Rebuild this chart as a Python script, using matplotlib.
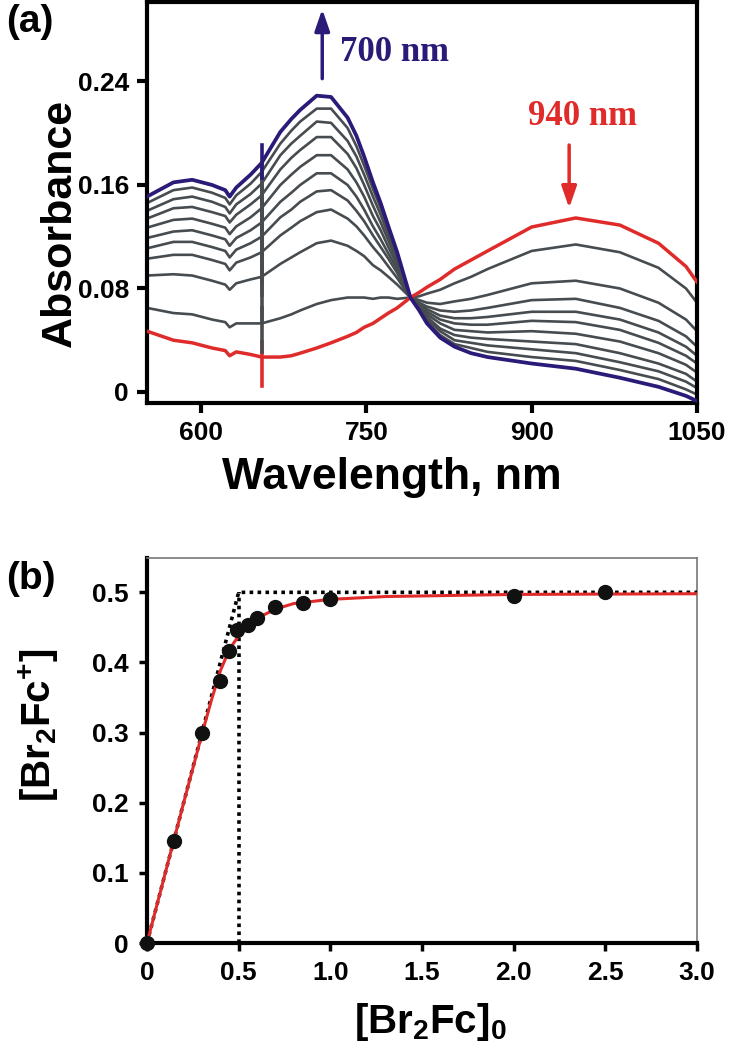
import numpy as np
import matplotlib
matplotlib.use("Agg")
import matplotlib.pyplot as plt

plt.rcParams['font.family'] = ['Liberation Sans', 'DejaVu Sans']
plt.rcParams['mathtext.fontset'] = 'custom'
plt.rcParams['mathtext.rm'] = 'Liberation Sans:bold'
plt.rcParams['mathtext.bf'] = 'Liberation Sans:bold'

# ---- panel (a) data: absorbance spectra during titration ----
wl = [551, 575, 592, 610, 622, 626, 632, 645, 655, 672, 682, 690, 705, 718, 733, 741, 748,
      756, 763, 770, 778, 790, 798, 805, 817, 830, 845, 860, 900, 940, 980, 1015, 1040, 1050]

abs_red = [.047, .040, .038, .034, .032, .028, .031, .029, .027, .027, .028, .030, .034, .038,
           .043, .046, .050, .053, .057, .061, .065, .073, .077, .081, .087, .095, .102, .109,
           .1275, .1345, .129, .115, .097, .085]
abs_blue = [.151, .162, .164, .160, .156, .151, .158, .168, .177, .201, .211, .218, .229, .228,
            .212, .198, .182, .162, .146, .128, .108, .073, .063, .053, .042, .035, .030, .027,
            .022, .018, .011, .004, -.003, -.007]

abs_g1 = [.065, .061, .060, .056, .054, .050, .053, .053, .053, .057, .060, .063, .068, .071,
          .073, .073, .073, .072, .073, .073, .072, .073, .074, .076, .079, .084, .089, .095,
          .109, .114, .108, .096, .080, .069]
abs_g2 = [.090, .091, .090, .086, .083, .079, .084, .087, .089, .099, .104, .108, .115, .117,
          .113, .109, .105, .098, .094, .089, .083, .073, .071, .069, .068, .070, .072, .075,
          .084, .086, .080, .069, .056, .047]
abs_g3 = [.103, .106, .106, .102, .099, .094, .100, .104, .108, .121, .127, .132, .139, .141,
          .134, .128, .121, .112, .105, .097, .088, .073, .069, .066, .063, .062, .063, .065,
          .071, .072, .065, .055, .043, .035]
abs_g4 = [.111, .116, .116, .112, .109, .104, .110, .115, .120, .135, .141, .147, .155, .156,
          .148, .140, .132, .121, .112, .103, .092, .073, .068, .064, .059, .057, .057, .058,
          .062, .062, .056, .046, .035, .028]
abs_g5 = [.119, .124, .125, .121, .118, .113, .119, .125, .131, .147, .154, .160, .169, .169,
          .160, .151, .141, .128, .118, .107, .095, .073, .067, .062, .056, .053, .052, .052,
          .055, .054, .048, .038, .028, .022]
abs_g6 = [.127, .133, .134, .130, .127, .122, .128, .135, .142, .160, .168, .174, .183, .183,
          .172, .162, .151, .136, .125, .112, .098, .073, .066, .060, .053, .048, .047, .046,
          .047, .045, .039, .030, .021, .015]
abs_g7 = [.134, .142, .143, .139, .136, .131, .137, .145, .152, .172, .181, .187, .197, .197,
          .184, .173, .160, .144, .131, .117, .101, .073, .065, .058, .049, .044, .042, .041,
          .039, .037, .030, .022, .014, .008]
abs_g8 = [.140, .149, .151, .147, .143, .138, .145, .153, .161, .183, .192, .198, .209, .208,
          .194, .182, .168, .151, .137, .121, .103, .073, .064, .056, .047, .040, .038, .036,
          .033, .030, .023, .016, .008, .003]
abs_g9 = [.146, .156, .158, .154, .150, .145, .152, .161, .170, .192, .202, .209, .219, .219,
          .204, .190, .175, .157, .142, .125, .106, .073, .063, .054, .044, .037, .034, .031,
          .027, .024, .017, .010, .002, -.002]

# lamp-change artefact at 655 nm (red, g1..g9, blue)
spike_wl = 655
spike_hi = [.039, .065, .095, .114, .126, .137, .148, .158, .167, .176, .191]
spike_lo = [.005, .031, .056, .075, .085, .095, .105, .115, .125, .135, .165]

# ---- panel (b) data: titration curve ----
conc0 = [0, 0.15, 0.30, 0.40, 0.45, 0.49, 0.55, 0.60, 0.70, 0.85, 1.0, 2.0, 2.5]
conc_ox = [0, 0.145, 0.300, 0.374, 0.417, 0.446, 0.453, 0.464, 0.479, 0.485, 0.490, 0.495, 0.500]

fit_x = [0, 0.1, 0.2, 0.3, 0.35, 0.4, 0.45, 0.5, 0.55, 0.6, 0.7, 0.8, 1.0, 1.3, 2.0, 3.0]
fit_y = [0, 0.100, 0.200, 0.298, 0.345, 0.388, 0.419, 0.438, 0.452, 0.463, 0.476, 0.484,
         0.490, 0.494, 0.497, 0.498]

ideal_x = [0, 0.5, 3.0]
ideal_y = [0, 0.5, 0.5]
equiv_x = [0.5, 0.5]
equiv_y = [0, 0.5]

RED = '#e02b2b'
BLUE = '#2b1a78'
GRAY = '#464c50'

fig = plt.figure(figsize=(7.32, 10.5), dpi=100)

# ---------------- (a) ----------------
ax1 = fig.add_axes([0.2008, 0.6162, 0.7514, 0.3819])
grays = [abs_g1, abs_g2, abs_g3, abs_g4, abs_g5, abs_g6, abs_g7, abs_g8, abs_g9]
for g in grays:
    ax1.plot(wl, g, color=GRAY, lw=1.9, zorder=2)
ax1.plot(wl, abs_red, color=RED, lw=2.5, zorder=3)
ax1.plot(wl, abs_blue, color=BLUE, lw=2.7, zorder=4)
colors = [RED] + [GRAY] * 9 + [BLUE]
for lo, hi, c in zip(spike_lo, spike_hi, colors):
    ax1.plot([spike_wl, spike_wl], [lo, hi], color=c, lw=2.6, zorder=3)

ax1.set_xlim(551, 1050)
ax1.set_ylim(-0.0085, 0.3014)
ax1.set_xticks([600, 750, 900, 1050])
ax1.set_yticks([0, 0.08, 0.16, 0.24])
ax1.set_yticklabels(['0', '0.08', '0.16', '0.24'])
ax1.tick_params(direction='out', length=7, width=3, labelsize=19, pad=6)
for lab in ax1.get_xticklabels() + ax1.get_yticklabels():
    lab.set_fontweight('bold')
for s in ax1.spines.values():
    s.set_linewidth(3)
ax1.set_xlabel('Wavelength, nm', fontsize=32, fontweight='bold')
ax1.set_ylabel('Absorbance', fontsize=31, fontweight='bold')
ax1.xaxis.set_label_coords(0.445, -0.135)
ax1.yaxis.set_label_coords(-0.122, 0.45)

ax1.annotate('', xy=(710, 0.298), xytext=(710, 0.240),
             arrowprops=dict(arrowstyle='-|>,head_width=0.45,head_length=1.3',
                             color=BLUE, lw=2.5))
ax1.text(726, 0.262, '700 nm', color=BLUE, fontsize=25, fontweight='bold',
         family='Liberation Serif', va='center', ha='left')
ax1.annotate('', xy=(934, 0.140), xytext=(934, 0.193),
             arrowprops=dict(arrowstyle='-|>,head_width=0.45,head_length=1.3',
                             color=RED, lw=2.5))
ax1.text(946, 0.213, '940 nm', color=RED, fontsize=25, fontweight='bold',
         family='Liberation Serif', va='center', ha='center')
fig.text(0.008, 0.996, '(a)', fontsize=28, fontweight='bold', va='top', ha='left')

# ---------------- (b) ----------------
ax2 = fig.add_axes([0.2008, 0.1019, 0.7514, 0.3667])
ax2.plot(ideal_x, ideal_y, color='black', lw=2.6, ls=(0, (1, 1.2)), zorder=3)
ax2.plot(equiv_x, equiv_y, color='black', lw=2.6, ls=(0, (1, 1.2)), zorder=3)
ax2.plot(fit_x, fit_y, color=RED, lw=2.2, zorder=4)
ax2.plot(conc0, conc_ox, 'o', color='#111111', ms=10, zorder=5, clip_on=False)

ax2.set_xlim(0, 3.0)
ax2.set_ylim(0, 0.549)
ax2.set_xticks([0, 0.5, 1.0, 1.5, 2.0, 2.5, 3.0])
ax2.set_xticklabels(['0', '0.5', '1.0', '1.5', '2.0', '2.5', '3.0'])
ax2.set_yticks([0, 0.1, 0.2, 0.3, 0.4, 0.5])
ax2.set_yticklabels(['0', '0.1', '0.2', '0.3', '0.4', '0.5'])
ax2.tick_params(direction='out', length=6, width=2.5, labelsize=19, pad=7)
for lab in ax2.get_xticklabels() + ax2.get_yticklabels():
    lab.set_fontweight('bold')
ax2.spines['left'].set_linewidth(3)
ax2.spines['bottom'].set_linewidth(3)
ax2.spines['top'].set_linewidth(1.2)
ax2.spines['right'].set_linewidth(1.2)
ax2.spines['top'].set_color('#777777')
ax2.spines['right'].set_color('#777777')
ax2.set_xlabel(r'[Br$_2$Fc]$_0$', fontsize=29, fontweight='bold')
ax2.set_ylabel(r'[Br$_2$Fc$^{+}$]', fontsize=29, fontweight='bold')
ax2.xaxis.set_label_coords(0.515, -0.15)
ax2.yaxis.set_label_coords(-0.156, 0.565)
fig.text(0.008, 0.466, '(b)', fontsize=28, fontweight='bold', va='top', ha='left')

fig.savefig('out.png', dpi=100)
